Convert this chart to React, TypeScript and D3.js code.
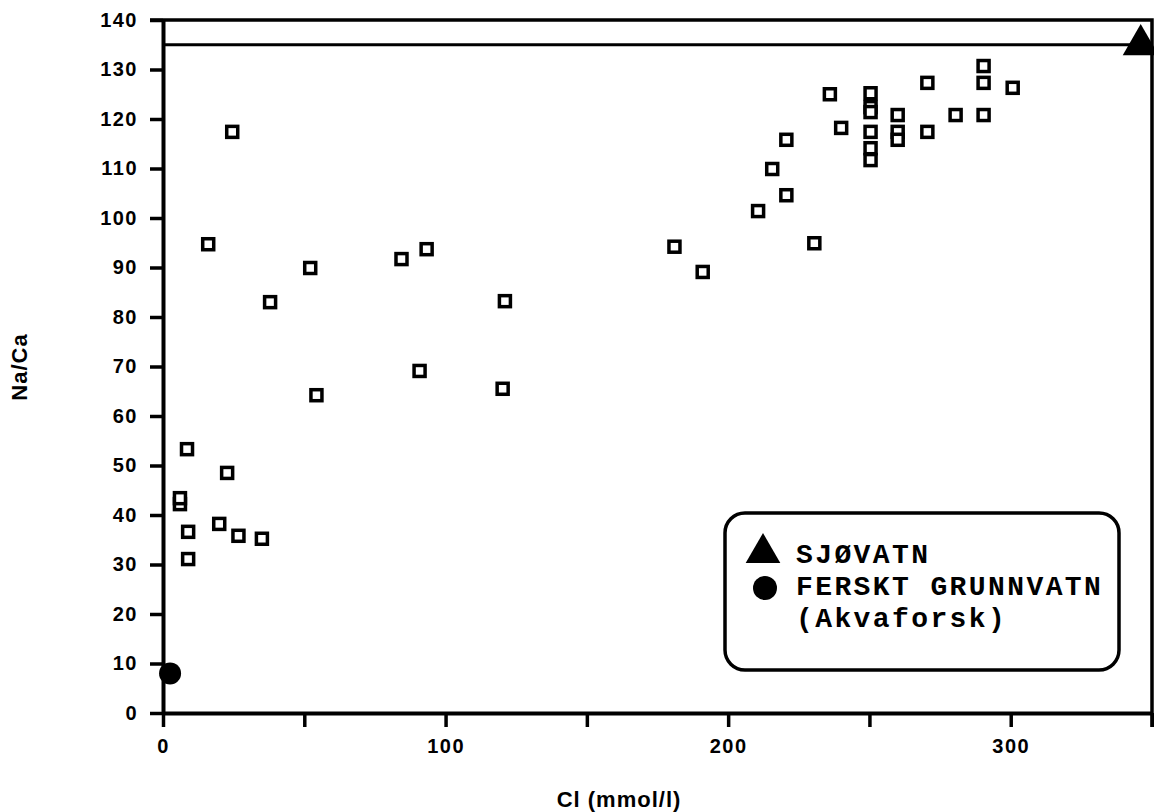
import React, { useEffect, useRef } from 'react';
import * as d3 from 'd3';

// measured samples: Cl (mmol/l) vs Na/Ca
const clValues = [
  24.5, 16, 37.9, 52.1, 54.3, 84.4, 93.3, 90.8, 121, 120.2,
  8.5, 22.7, 6, 6, 8.9, 8.9, 19.9, 26.7, 35,
  181, 191, 210.6, 220.6, 215.6, 220.6, 230.5, 236, 240,
  250.4, 250.4, 250.4, 250.4, 250.4, 250.4,
  260, 260, 260, 270.5, 270.5, 280.5, 290.4, 290.4, 290.4, 300.7
];
const naCaValues = [
  117.4, 94.7, 83, 89.9, 64.2, 91.7, 93.7, 69.1, 83.2, 65.5,
  53.3, 48.5, 42.2, 43.4, 36.6, 31.1, 38.2, 35.8, 35.2,
  94.2, 89.1, 101.4, 104.6, 109.9, 115.8, 94.9, 125, 118.2,
  125.2, 122.4, 121.4, 117.4, 114.1, 111.7,
  120.8, 117.4, 115.8, 127.3, 117.4, 120.8, 130.7, 127.3, 120.8, 126.3
];

// reference points
const seaWater = { cl: 346, naCa: 135 };
const freshGroundWater = { cl: 2.5, naCa: 8 };
const seaWaterLine = 135;

const yTicks = [0, 10, 20, 30, 40, 50, 60, 70, 80, 90, 100, 110, 120, 130, 140];
const xTicks = [0, 50, 100, 150, 200, 250, 300, 350];
const xTickLabels = [0, 100, 200, 300];

const legendLines = ['SJØVATN', 'FERSKT GRUNNVATN', '(Akvaforsk)'];

export default function App() {
  const ref = useRef<SVGSVGElement>(null);

  useEffect(() => {
    const svg = d3.select(ref.current);
    svg.selectAll('*').remove();

    const x = d3.scaleLinear().domain([0, 350]).range([163, 1152]);
    const y = d3.scaleLinear().domain([0, 140]).range([713, 20]);
    const axisFont = '"Liberation Sans", Arial, sans-serif';

    // frame: top + right border
    svg.append('path')
      .attr('d', `M${x(0) - 13},${y(140)} H${x(350)} V${y(0) + 14}`)
      .attr('fill', 'none').attr('stroke', '#000').attr('stroke-width', 3.5);

    // sea water Na/Ca line
    svg.append('line')
      .attr('x1', x(0)).attr('x2', x(350))
      .attr('y1', y(seaWaterLine)).attr('y2', y(seaWaterLine))
      .attr('stroke', '#000').attr('stroke-width', 3);

    // y axis
    const yAxis = svg.append('g').attr('transform', `translate(${x(0)},0)`)
      .call(d3.axisLeft(y).tickValues(yTicks).tickSize(13).tickPadding(12).tickSizeOuter(0));
    yAxis.select('.domain').attr('stroke-width', 4);
    yAxis.selectAll('.tick line').attr('stroke-width', 3.5);
    yAxis.selectAll('text')
      .attr('font-family', axisFont).attr('font-weight', 'bold')
      .attr('font-size', 20).attr('letter-spacing', 1.5).attr('fill', '#000');

    // x axis
    const xAxis = svg.append('g').attr('transform', `translate(0,${y(0)})`)
      .call(d3.axisBottom(x).tickValues(xTicks).tickSize(14).tickPadding(12).tickSizeOuter(0)
        .tickFormat((d) => (xTickLabels.includes(d as number) ? String(d) : '')));
    xAxis.select('.domain').attr('stroke-width', 4);
    xAxis.selectAll('.tick line').attr('stroke-width', 3.5);
    xAxis.selectAll('text')
      .attr('font-family', axisFont).attr('font-weight', 'bold')
      .attr('font-size', 20).attr('letter-spacing', 1.5).attr('fill', '#000');

    // axis titles
    svg.append('text')
      .attr('x', 619).attr('y', 807).attr('text-anchor', 'middle')
      .attr('font-family', axisFont).attr('font-weight', 'bold').attr('font-size', 22)
      .attr('letter-spacing', 1)
      .text('Cl (mmol/l)');
    svg.append('text')
      .attr('transform', 'translate(27,367) rotate(-90)').attr('text-anchor', 'middle')
      .attr('font-family', axisFont).attr('font-weight', 'bold').attr('font-size', 22)
      .attr('letter-spacing', 1)
      .text('Na/Ca');

    // sample squares
    svg.append('g').selectAll('rect')
      .data(clValues.map((c, i) => [c, naCaValues[i]]))
      .join('rect')
      .attr('x', (d) => x(d[0]) - 5.5)
      .attr('y', (d) => y(d[1]) - 5.5)
      .attr('width', 11).attr('height', 11)
      .attr('fill', '#fff').attr('stroke', '#000').attr('stroke-width', 3.5);

    // sea water triangle, fresh groundwater dot
    svg.append('path')
      .attr('d', d3.symbol(d3.symbolTriangle, 560)())
      .attr('transform', `translate(${x(seaWater.cl)},${y(seaWater.naCa)})`)
      .attr('fill', '#000');
    svg.append('circle')
      .attr('cx', x(freshGroundWater.cl)).attr('cy', y(freshGroundWater.naCa))
      .attr('r', 11).attr('fill', '#000');

    // legend
    const lg = svg.append('g');
    lg.append('rect')
      .attr('x', 725).attr('y', 513).attr('width', 394).attr('height', 157)
      .attr('rx', 20).attr('fill', '#fff').attr('stroke', '#000').attr('stroke-width', 3.5);
    lg.append('path')
      .attr('d', d3.symbol(d3.symbolTriangle, 520)())
      .attr('transform', 'translate(763,553)').attr('fill', '#000');
    lg.append('circle').attr('cx', 765).attr('cy', 588).attr('r', 12).attr('fill', '#000');
    lg.selectAll('text.leg')
      .data(legendLines)
      .join('text')
      .attr('class', 'leg')
      .attr('x', 796)
      .attr('y', (d, i) => 563 + i * 32)
      .attr('font-family', '"Liberation Mono", "Courier New", monospace')
      .attr('font-weight', 'bold').attr('font-size', 28).attr('letter-spacing', 2.4)
      .text((d) => d);
  }, []);

  return (
    <svg ref={ref} width={1154} height={812}
      style={{ position: 'absolute', left: 0, top: 0, background: '#fff' }} />
  );
}
